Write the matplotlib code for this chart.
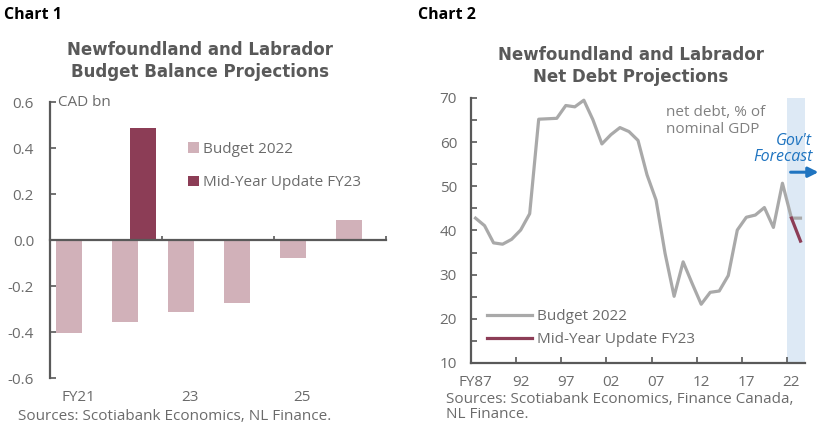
import matplotlib.pyplot as plt
import numpy as np

plt.rcParams['font.family'] = ['Open Sans', 'DejaVu Sans']

# ---------------- dati grafico 1: saldo di bilancio ----------------
anni1 = ['FY21', 'FY22', 'FY23', 'FY24', 'FY25', 'FY26']
budget_2022 = [-0.405, -0.355, -0.315, -0.275, -0.08, 0.085]
mid_year = [np.nan, 0.485, np.nan, np.nan, np.nan, np.nan]
etichette1 = {0: 'FY21', 2: '23', 4: '25'}

# ---------------- dati grafico 2: debito netto (% PIL) ----------------
anni2 = list(range(1987, 2024))
debito_budget = [42.8, 41.1, 37.2, 36.9, 38.0, 40.1, 43.8, 65.2, 65.3, 65.4,
                 68.3, 68.0, 69.5, 65.1, 59.6, 61.7, 63.3, 62.4, 60.4, 52.6,
                 46.9, 34.8, 25.1, 32.9, 28.0, 23.3, 26.0, 26.3, 29.8, 40.1,
                 43.0, 43.5, 45.2, 40.7, 50.7, 42.8, 42.8]
debito_mid = [42.8, 37.6]           # FY22, FY23
anni_mid = [2022, 2023]
etichette2 = ['FY87', '92', '97', '02', '07', '12', '17', '22']

GRIGIO_TXT = '#6b6b6b'
SPINE = '#595959'
ROSA = '#d1b1b9'
BORDEAUX = '#8c3d56'
BLU = '#1f74c0'
FS = 11

fig = plt.figure(figsize=(8.28, 4.33), dpi=100)

# ============== grafico 1 ==============
ax1 = fig.add_axes([50/828, 55/433, 336/828, 276/433])
x = np.arange(len(anni1))
ax1.bar(x - 0.16, budget_2022, width=0.45, color=ROSA, label='Budget 2022')
ax1.bar(x + 0.16, mid_year, width=0.45, color=BORDEAUX, label='Mid-Year Update FY23')
ax1.set_xlim(-0.5, 5.5)
ax1.set_ylim(-0.6, 0.6)
ax1.set_yticks([-0.6, -0.4, -0.2, 0.0, 0.2, 0.4, 0.6])
ax1.set_yticklabels(['-0.6', '-0.4', '-0.2', '0.0', '0.2', '0.4', '0.6'])
for s in ['top', 'right']:
    ax1.spines[s].set_visible(False)
ax1.spines['bottom'].set_position(('data', 0))
for s in ['left', 'bottom']:
    ax1.spines[s].set_color(SPINE)
    ax1.spines[s].set_linewidth(1.6)
ax1.set_xticks([1.5, 3.5, 5.5])
ax1.set_xticklabels([])
ax1.tick_params(axis='x', direction='in', length=3, color=SPINE, width=1.2)
ax1.tick_params(axis='y', direction='in', length=4, color=SPINE, width=1.2,
                labelsize=FS, labelcolor=GRIGIO_TXT, pad=11.5)
for i, lab in etichette1.items():
    ax1.text(i, -0.072, lab, transform=ax1.get_xaxis_transform(),
             ha='center', va='center', fontsize=FS, color=GRIGIO_TXT)
ax1.text(0.025, 0.6, 'CAD bn', transform=ax1.get_yaxis_transform(),
         ha='left', va='center', fontsize=FS, color=GRIGIO_TXT)
ax1.legend(loc='upper left', bbox_to_anchor=(0.41, 0.855), frameon=False,
           fontsize=FS, labelcolor=GRIGIO_TXT, handlelength=0.72,
           handleheight=0.72, handletextpad=0.25, labelspacing=1.2, borderpad=0,
           borderaxespad=0)

fig.text(4/828, 1 - 15/433, 'Chart 1', fontsize=11.5, fontweight='bold',
         color='black', ha='left', va='center')
fig.text(200/828, 1 - 61/433, 'Newfoundland and Labrador\nBudget Balance Projections',
         fontsize=12, fontweight='bold', color=SPINE, ha='center', va='center',
         linespacing=1.25, family='DejaVu Sans')
fig.text(18/828, 1 - 417/433, 'Sources: Scotiabank Economics, NL Finance.',
         fontsize=FS, color=GRIGIO_TXT, ha='left', va='center')

# ============== grafico 2 ==============
ax2 = fig.add_axes([471/828, 70/433, 334/828, 265/433])
ax2.axvspan(2021.5, 2023.5, color='#dde9f5', lw=0, zorder=0)
ax2.plot(anni2, debito_budget, color='#a9a9a9', lw=2.3, label='Budget 2022', zorder=2)
ax2.plot(anni_mid, debito_mid, color=BORDEAUX, lw=2.3, label='Mid-Year Update FY23', zorder=3)
ax2.set_xlim(1986.5, 2023.5)
ax2.set_ylim(10, 70)
ax2.set_yticks(range(10, 71, 10))
ax2.set_yticks(range(15, 70, 10), minor=True)
for s in ['top', 'right']:
    ax2.spines[s].set_visible(False)
for s in ['left', 'bottom']:
    ax2.spines[s].set_color(SPINE)
    ax2.spines[s].set_linewidth(1.6)
ax2.set_xticks([a + 0.5 for a in range(1991, 2023, 5)])
ax2.set_xticklabels([])
ax2.tick_params(axis='x', direction='in', length=4, color=SPINE, width=1.2)
ax2.tick_params(axis='y', which='both', direction='in', length=4, color=SPINE,
                width=1.2, labelsize=FS, labelcolor=GRIGIO_TXT, pad=10)
for k, lab in enumerate(etichette2):
    ax2.text(1987 + 5*k, -0.075, lab, transform=ax2.get_xaxis_transform(),
             ha='center', va='center', fontsize=FS, color=GRIGIO_TXT)
ax2.text(2008.1, 64.8, 'net debt, % of\nnominal GDP', fontsize=FS, color='#808080',
         ha='left', va='center', linespacing=1.1)
ax2.text(2024.3, 58.4, "Gov't\nForecast", fontsize=11.5, color=BLU,
         ha='right', va='center', style='italic', linespacing=1.0)
ax2.annotate('', xy=(2025.3, 53.2), xytext=(2021.6, 53.2),
             arrowprops=dict(arrowstyle='-|>', color=BLU, lw=2.2,
                             mutation_scale=15), annotation_clip=False)
ax2.legend(loc='lower left', bbox_to_anchor=(0.048, 0.06), frameon=False,
           fontsize=FS, labelcolor=GRIGIO_TXT, handlelength=2.95,
           handletextpad=0.35, labelspacing=0.5, borderpad=0, borderaxespad=0)

fig.text(418/828, 1 - 15/433, 'Chart 2', fontsize=11.5, fontweight='bold',
         color='black', ha='left', va='center')
fig.text(631/828, 1 - 66/433, 'Newfoundland and Labrador\nNet Debt Projections',
         fontsize=12, fontweight='bold', color=SPINE, ha='center', va='center',
         linespacing=1.3, family='DejaVu Sans')
fig.text(446/828, 1 - 407/433, 'Sources: Scotiabank Economics, Finance Canada,\nNL Finance.',
         fontsize=FS, color=GRIGIO_TXT, ha='left', va='center', linespacing=1.0)

fig.savefig('out.png', dpi=100)
